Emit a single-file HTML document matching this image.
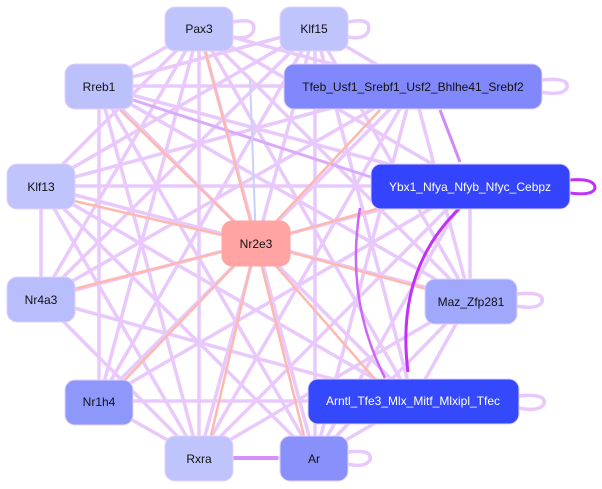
<!DOCTYPE html>
<html><head><meta charset="utf-8"><style>
html,body{margin:0;padding:0;background:#fff;}
svg{display:block;}
text{font-family:"Liberation Sans",sans-serif;font-size:12px;text-anchor:middle;dominant-baseline:central;}
</style></head><body>
<svg width="602" height="489" viewBox="0 0 602 489" xmlns="http://www.w3.org/2000/svg">
<g stroke="#e9c8fc" stroke-width="3.5" fill="none" stroke-linecap="round">
<line x1="199" y1="28" x2="99" y2="86"/><line x1="199" y1="28" x2="413" y2="86"/><line x1="199" y1="28" x2="41" y2="186"/><line x1="199" y1="28" x2="41" y2="299"/><line x1="199" y1="28" x2="470" y2="299"/><line x1="199" y1="28" x2="413" y2="401"/><line x1="199" y1="28" x2="470" y2="186"/><line x1="199" y1="28" x2="99" y2="401"/><line x1="199" y1="28" x2="199" y2="458"/><line x1="199" y1="28" x2="315" y2="458"/>
<line x1="315" y1="28" x2="413" y2="86"/><line x1="315" y1="28" x2="99" y2="86"/><line x1="315" y1="28" x2="41" y2="186"/><line x1="315" y1="28" x2="41" y2="299"/><line x1="315" y1="28" x2="99" y2="401"/><line x1="315" y1="28" x2="199" y2="458"/><line x1="315" y1="28" x2="315" y2="458"/><line x1="315" y1="28" x2="413" y2="401"/><line x1="315" y1="28" x2="470" y2="299"/>
<line x1="99" y1="86" x2="413" y2="86"/><line x1="99" y1="86" x2="470" y2="186"/><line x1="99" y1="86" x2="470" y2="299"/><line x1="99" y1="86" x2="413" y2="401"/><line x1="99" y1="86" x2="199" y2="458"/><line x1="99" y1="86" x2="315" y2="458"/><line x1="99" y1="86" x2="99" y2="401"/>
<line x1="41" y1="186" x2="470" y2="186"/><line x1="41" y1="186" x2="413" y2="86"/><line x1="41" y1="186" x2="413" y2="401"/><line x1="41" y1="186" x2="470" y2="299"/><line x1="41" y1="186" x2="41" y2="299"/><line x1="41" y1="186" x2="199" y2="458"/><line x1="41" y1="186" x2="315" y2="458"/>
<line x1="41" y1="299" x2="413" y2="86"/><line x1="41" y1="299" x2="470" y2="186"/><line x1="41" y1="299" x2="413" y2="401"/><line x1="41" y1="299" x2="199" y2="458"/>
<line x1="99" y1="401" x2="413" y2="86"/><line x1="99" y1="401" x2="470" y2="186"/><line x1="99" y1="401" x2="413" y2="401"/><line x1="99" y1="401" x2="199" y2="458"/>
<line x1="199" y1="458" x2="413" y2="86"/><line x1="199" y1="458" x2="470" y2="186"/><line x1="199" y1="458" x2="470" y2="299"/><line x1="199" y1="458" x2="315" y2="458"/>
<line x1="315" y1="458" x2="413" y2="86"/><line x1="315" y1="458" x2="470" y2="186"/><line x1="315" y1="458" x2="470" y2="299"/><line x1="315" y1="458" x2="413" y2="401"/>
<line x1="470" y1="299" x2="470" y2="186"/><line x1="470" y1="299" x2="413" y2="86"/><line x1="470" y1="299" x2="413" y2="401"/>
<path d="M233 22 q25 -5 20 10 q-5 8 -20 5"/><path d="M348 22 q25 -5 20 10 q-5 8 -20 5"/><path d="M542 80 q28 -3 25 8 q-5 8 -25 4"/><path d="M517 294 q28 -3 25 8 q-5 8 -25 4"/><path d="M519 396 q28 -3 25 8 q-5 8 -25 4"/><path d="M348 452 q25 -3 22 8 q-5 8 -22 4"/>
</g>
<line x1="440" y1="110" x2="460" y2="162" stroke="#d288fa" stroke-width="3"/>
<line x1="133" y1="100" x2="380" y2="180" stroke="#dcaafa" stroke-width="3"/>
<g stroke="#fdb8b0" stroke-width="2.5" fill="none">
<line x1="256" y1="243" x2="205" y2="50"/><line x1="256" y1="243" x2="120" y2="110"/><line x1="256" y1="243" x2="70" y2="200"/><line x1="256" y1="243" x2="70" y2="290"/><line x1="256" y1="243" x2="120" y2="385"/><line x1="256" y1="243" x2="210" y2="440"/><line x1="256" y1="243" x2="305" y2="440"/><line x1="256" y1="243" x2="380" y2="110"/><line x1="256" y1="243" x2="390" y2="205"/><line x1="256" y1="243" x2="430" y2="290"/><line x1="256" y1="243" x2="380" y2="385"/>
</g>
<line x1="256" y1="243" x2="250" y2="80" stroke="#c8d0fa" stroke-width="2"/>
<g stroke="#c030f8" stroke-width="3" fill="none">
<path d="M460 208 Q395 270 408 372"/><path d="M360 208 Q345 300 385 378" stroke="#cc66f8" stroke-width="2.5"/>
<path d="M570 180 q25 -2 25 8 q-2 8 -25 5"/>
</g>
<line x1="233" y1="458" x2="278" y2="458" stroke="#d690fa" stroke-width="4"/>
<g stroke="#e6d0fc" stroke-width="1">
<rect x="165" y="7" width="68" height="44" rx="10" fill="#c0c4fc"/>
<rect x="280" y="7" width="68" height="44" rx="10" fill="#c0c4fc"/>
<rect x="65" y="64" width="68" height="45" rx="10" fill="#bcc1fc"/>
<rect x="284" y="64" width="258" height="45" rx="10" fill="#8088fc"/>
<rect x="7" y="164" width="68" height="45" rx="10" fill="#c0c4fc"/>
<rect x="371" y="164" width="199" height="45" rx="10" fill="#3444fc"/>
<rect x="222" y="221" width="68" height="45" rx="10" fill="#ffa3a3" stroke="#ffa3a3"/>
<rect x="7" y="277" width="68" height="45" rx="10" fill="#b8bdfc"/>
<rect x="425" y="279" width="92" height="45" rx="10" fill="#a0a8fc"/>
<rect x="65" y="380" width="68" height="45" rx="10" fill="#8e98fb"/>
<rect x="308" y="379" width="211" height="45" rx="10" fill="#3448fc"/>
<rect x="165" y="436" width="68" height="45" rx="10" fill="#c0c4fc"/>
<rect x="280" y="436" width="68" height="45" rx="10" fill="#8890fb"/>
</g>
<g fill="#111">
<text x="199" y="29">Pax3</text><text x="314" y="29">Klf15</text><text x="99" y="87">Rreb1</text>
<text x="413" y="87">Tfeb_Usf1_Srebf1_Usf2_Bhlhe41_Srebf2</text>
<text x="41" y="187">Klf13</text><text x="256" y="244">Nr2e3</text><text x="41" y="300">Nr4a3</text>
<text x="471" y="302">Maz_Zfp281</text><text x="99" y="402">Nr1h4</text><text x="199" y="459">Rxra</text><text x="314" y="459">Ar</text>
</g>
<g fill="#fff">
<text x="470" y="187">Ybx1_Nfya_Nfyb_Nfyc_Cebpz</text>
<text x="413" y="401">Arntl_Tfe3_Mlx_Mitf_Mlxipl_Tfec</text>
</g>
</svg>
</body></html>
